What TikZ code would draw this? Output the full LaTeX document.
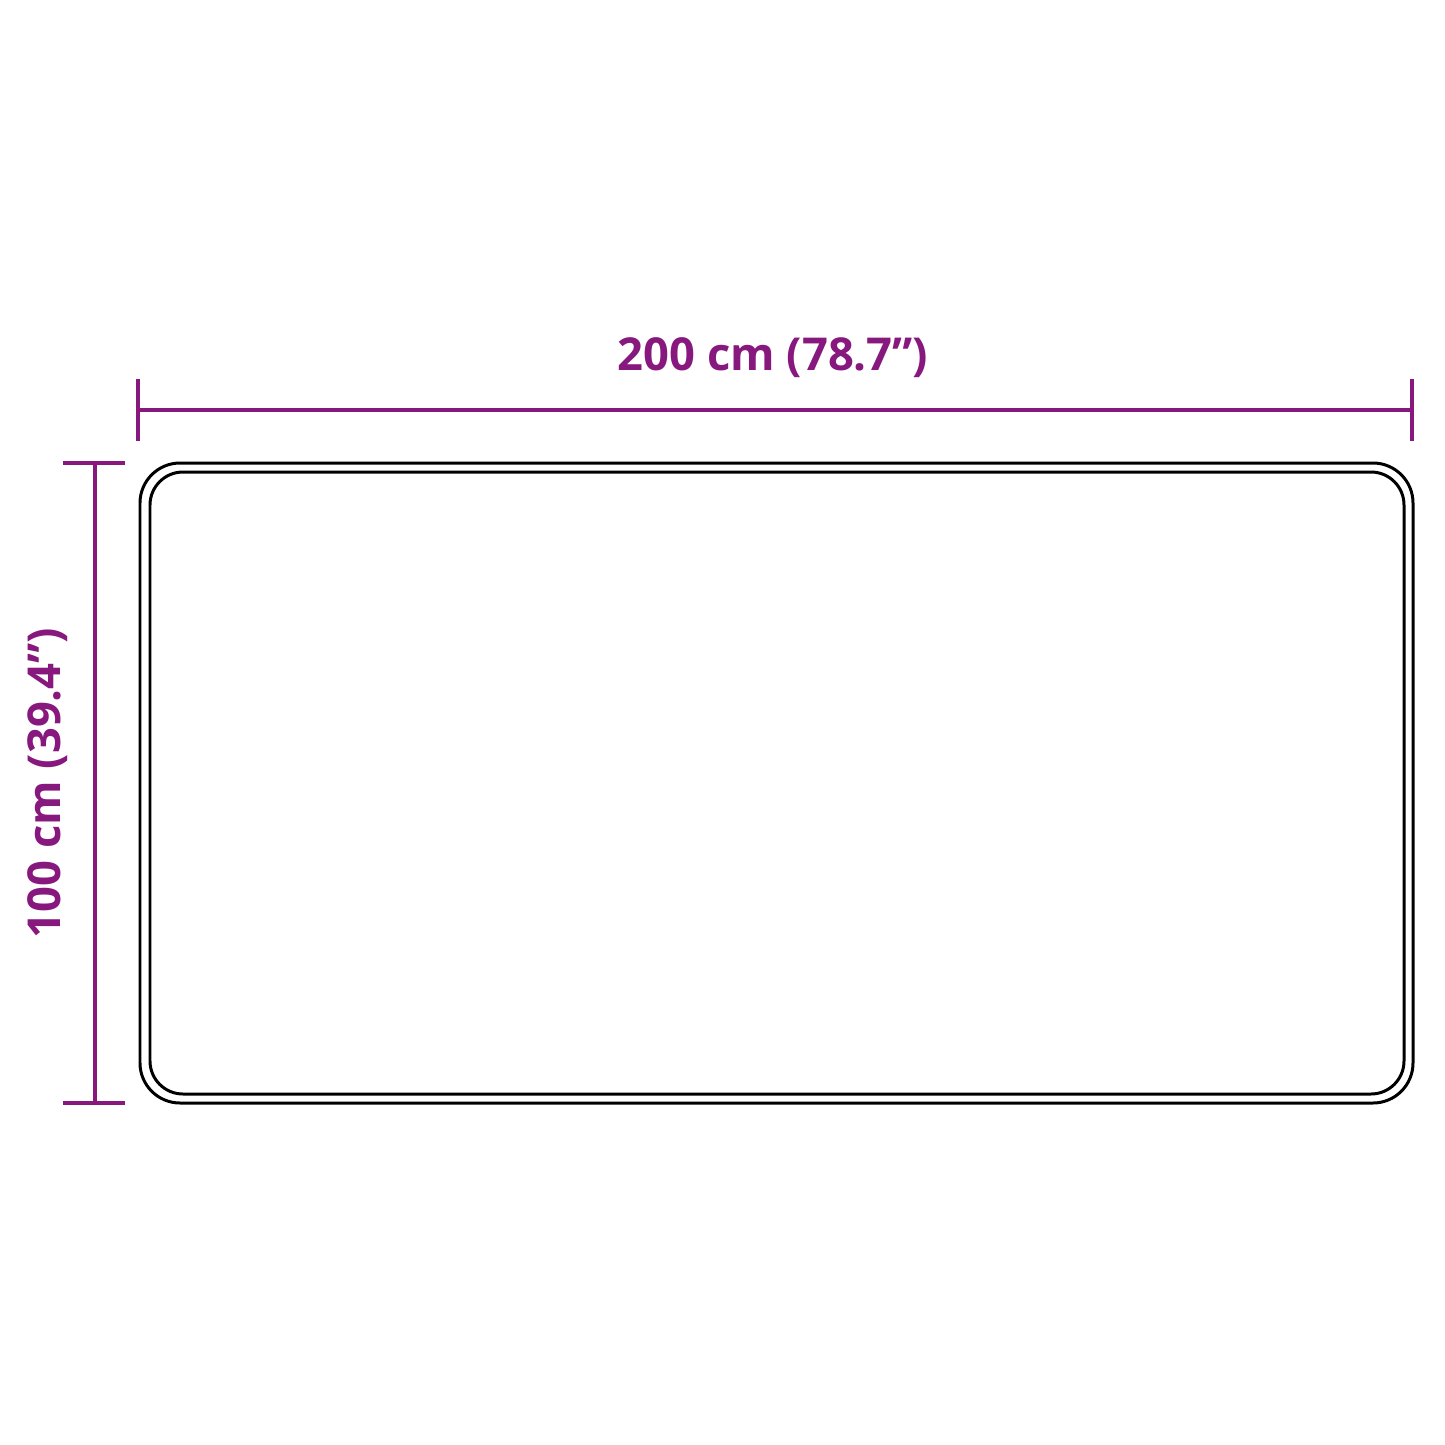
\documentclass[tikz,border=0pt]{standalone}
\usepackage{fontspec}
\setmainfont{Open Sans}
\usetikzlibrary{calc}
\definecolor{maat}{RGB}{135,24,125}

\begin{document}
\begin{tikzpicture}[x=0.01cm,y=-0.01cm]
      \useasboundingbox (0,0) rectangle (1445,1445);
      \tikzset{
        maatlijn/.style={draw=maat,line width=1.15pt},
        maattekst/.style={text=maat,font=\bfseries\fontsize{12.9}{15}\selectfont,inner sep=0pt},
        rand/.style={draw=black,line width=0.85pt,rounded corners=0.4cm}
      }

      % mat
      \draw[rand] (140,463) rectangle (1413,1103);
      \draw[rand,rounded corners=0.33cm] (150,472) rectangle (1404,1094);

      % breedte
      \coordinate (bl) at (138,410);
      \coordinate (br) at (1412,410);
      \draw[maatlijn] (bl) -- (br);
      \draw[maatlijn] ($(bl)+(0,-31)$) -- ($(bl)+(0,31)$);
      \draw[maatlijn] ($(br)+(0,-31)$) -- ($(br)+(0,31)$);
      \node[maattekst] (breedte) at (773,358) {200 cm (78.7”)};

      % hoogte
      \coordinate (ht) at (95,463);
      \coordinate (hb) at (95,1103);
      \draw[maatlijn] (ht) -- (hb);
      \draw[maatlijn] ($(ht)+(-32,0)$) -- ($(ht)+(30,0)$);
      \draw[maatlijn] ($(hb)+(-32,0)$) -- ($(hb)+(30,0)$);
      \node[maattekst,rotate=90] (hoogte) at (48,783) {100 cm (39.4”)};
    \end{tikzpicture}
\end{document}
